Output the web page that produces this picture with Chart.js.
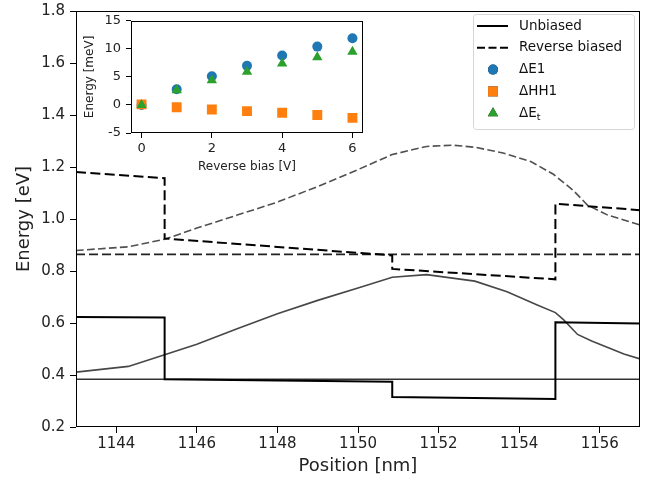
<!DOCTYPE html>
<html>
<head>
<meta charset="utf-8">
<script src="https://cdn.jsdelivr.net/npm/chart.js@4.4.0/dist/chart.umd.min.js"></script>
<style>
  body { margin: 0; background: #fff; }
  #wrap { position: relative; width: 651px; height: 484px; }
  #main { position: absolute; left: 0; top: 0; }
  #inset { position: absolute; left: 80px; top: 8px; }
</style>
</head>
<body>
<div id="wrap">
  <canvas id="main" width="651" height="484"></canvas>
  <canvas id="inset" width="290" height="172"></canvas>
</div>
<script>
// band edges (nm, eV) - steps repeat the x value
const stepX = [1143, 1145.2, 1145.2, 1150.85, 1150.85, 1154.9, 1154.9, 1157];
const unbiasedBand = [0.623, 0.621, 0.384, 0.374, 0.315, 0.308, 0.603, 0.598];
const biasedBand = [1.181, 1.157, 0.925, 0.860, 0.808, 0.768, 1.059, 1.034];

// confined levels
const levelX = [1143, 1157];
const unbiasedLevel = [0.384, 0.384];
const biasedLevel = [0.864, 0.864];

// the smooth curves
const unbiasedCurveX = [1143, 1144.3, 1145.2, 1146, 1147, 1148, 1149, 1150, 1150.85, 1151.7, 1152.9, 1153.7, 1154.45, 1154.9, 1155.1, 1155.45, 1155.8, 1156.2, 1156.6, 1157];
const unbiasedCurve = [0.411, 0.433, 0.478, 0.518, 0.578, 0.636, 0.687, 0.735, 0.776, 0.786, 0.761, 0.72, 0.669, 0.64, 0.613, 0.556, 0.531, 0.506, 0.481, 0.462];
const biasedCurveX = [1143, 1144.3, 1145.2, 1146, 1147, 1148, 1149, 1150, 1150.85, 1151.7, 1152.35, 1152.9, 1153.6, 1154.3, 1154.85, 1155.35, 1155.7, 1156.2, 1157];
const biasedCurve = [0.879, 0.893, 0.922, 0.965, 1.015, 1.065, 1.125, 1.19, 1.248, 1.279, 1.284, 1.276, 1.254, 1.22, 1.172, 1.109, 1.053, 1.015, 0.977];

const xTicks = [1144, 1146, 1148, 1150, 1152, 1154, 1156];
const yTicks = [0.2, 0.4, 0.6, 0.8, 1.0, 1.2, 1.4, 1.6, 1.8];

// inset: shifts vs reverse bias (V, meV)
const bias = [0, 1, 2, 3, 4, 5, 6];
const dE1 = [0, 2.8, 5.1, 7.0, 8.8, 10.4, 11.9];
const dHH1 = [0.1, -0.4, -0.8, -1.1, -1.4, -1.8, -2.3];
const dEt = [0, 2.6, 4.4, 5.9, 7.4, 8.5, 9.5];
const biasTicks = [0, 2, 4, 6];
const meVTicks = [-5, 0, 5, 10, 15];

const pts = (xs, ys) => xs.map((x, i) => ({x: x, y: ys[i]}));

Chart.defaults.font.family = 'DejaVu Sans';
Chart.defaults.color = '#222';

const frame = {
  id: 'frame',
  beforeDatasetsDraw(chart, args, opts) {
    if (!opts.fill) return;
    const {ctx, chartArea: a} = chart;
    ctx.save();
    ctx.fillStyle = opts.fill;
    ctx.fillRect(a.left, a.top, a.right - a.left, a.bottom - a.top);
    ctx.restore();
  },
  afterDatasetsDraw(chart) {
    const {ctx, chartArea: a} = chart;
    ctx.save();
    ctx.strokeStyle = '#000';
    ctx.lineWidth = 1;
    ctx.strokeRect(Math.round(a.left) + 0.5, Math.round(a.top) + 0.5,
      Math.round(a.right - a.left) - 1, Math.round(a.bottom - a.top) - 1);
    ctx.restore();
  }
};

const legendItems = [
  {label: 'Unbiased', kind: 'line', dash: []},
  {label: 'Reverse biased', kind: 'line', dash: [8, 3.5]},
  {label: 'ΔE1', kind: 'circle', color: '#1f77b4'},
  {label: 'ΔHH1', kind: 'rect', color: '#ff7f0e'},
  {label: 'ΔE', sub: 't', kind: 'triangle', color: '#2ca02c'}
];

const boxLegend = {
  id: 'boxLegend',
  afterDraw(chart) {
    const ctx = chart.ctx;
    const x0 = 473, y0 = 14, w = 161, h = 115, r = 3;
    ctx.save();
    ctx.beginPath();
    ctx.roundRect(x0 + 0.5, y0 + 0.5, w, h, r);
    ctx.fillStyle = 'rgba(255,255,255,0.8)';
    ctx.fill();
    ctx.strokeStyle = '#d6d6d6';
    ctx.lineWidth = 1;
    ctx.stroke();
    legendItems.forEach((it, i) => {
      const y = 26 + i * 21.8;
      const cx = 493;
      if (it.kind === 'line') {
        ctx.beginPath();
        ctx.setLineDash(it.dash);
        ctx.strokeStyle = '#000';
        ctx.lineWidth = 2;
        ctx.moveTo(477, y);
        ctx.lineTo(508, y);
        ctx.stroke();
        ctx.setLineDash([]);
      } else {
        Chart.helpers.drawPoint(ctx, {
          pointStyle: it.kind,
          radius: it.kind === 'circle' ? 5 : (it.kind === 'rect' ? 7 : 6),
          rotation: 0,
          borderWidth: 0
        }, cx, y);
        ctx.fillStyle = it.color;
        ctx.fill();
      }
      ctx.fillStyle = '#111';
      ctx.textBaseline = 'middle';
      ctx.font = '13.5px "DejaVu Sans"';
      ctx.fillText(it.label, 519, y);
      if (it.sub) {
        const tw = ctx.measureText(it.label).width;
        ctx.font = '9.5px "DejaVu Sans"';
        ctx.fillText(it.sub, 519 + tw, y + 4);
      }
    });
    ctx.restore();
  }
};

new Chart(document.getElementById('main'), {
  type: 'scatter',
  data: {
    datasets: [
      {label: 'Unbiased', data: pts(stepX, unbiasedBand), showLine: true, pointRadius: 0,
        borderColor: '#000', borderWidth: 2},
      {label: 'Unbiased level', data: pts(levelX, unbiasedLevel), showLine: true, pointRadius: 0,
        borderColor: '#333', borderWidth: 1.5},
      {label: 'Unbiased curve', data: pts(unbiasedCurveX, unbiasedCurve), showLine: true, pointRadius: 0,
        borderColor: '#474747', borderWidth: 1.6},
      {label: 'Reverse biased', data: pts(stepX, biasedBand), showLine: true, pointRadius: 0,
        borderColor: '#000', borderWidth: 2, borderDash: [10, 4.4]},
      {label: 'Reverse level', data: pts(levelX, biasedLevel), showLine: true, pointRadius: 0,
        borderColor: '#222', borderWidth: 1.6, borderDash: [9, 4]},
      {label: 'Reverse curve', data: pts(biasedCurveX, biasedCurve), showLine: true, pointRadius: 0,
        borderColor: '#505050', borderWidth: 1.6, borderDash: [7.7, 3.3]}
    ]
  },
  options: {
    responsive: false,
    animation: false,
    devicePixelRatio: 1,
    layout: {padding: {left: 0, right: 11, top: 6, bottom: 0}},
    plugins: {legend: {display: false}, tooltip: {enabled: false}},
    scales: {
      x: {
        type: 'linear', min: 1143, max: 1157,
        afterBuildTicks: s => { s.ticks = xTicks.map(v => ({value: v})); },
        afterFit: s => { s.height = 57; },
        grid: {drawOnChartArea: false, tickLength: 6, color: '#000'},
        border: {display: false},
        ticks: {font: {size: 15}, padding: 2, maxRotation: 0, autoSkip: false, callback: v => String(v)},
        title: {display: true, text: 'Position [nm]', font: {size: 18}, padding: {top: 0, bottom: 6.5}}
      },
      y: {
        type: 'linear', min: 0.2, max: 1.8,
        afterBuildTicks: s => { s.ticks = yTicks.map(v => ({value: v})); },
        afterFit: s => { s.width = 76; },
        grid: {drawOnChartArea: false, tickLength: 6, color: '#000'},
        border: {display: false},
        ticks: {font: {size: 15, lineHeight: 0.8}, padding: 5, autoSkip: false, callback: v => v.toFixed(1)},
        title: {display: true, text: 'Energy [eV]', font: {size: 18}, padding: {top: 14, bottom: 0}}
      }
    }
  },
  plugins: [frame, boxLegend]
});

new Chart(document.getElementById('inset'), {
  type: 'scatter',
  data: {
    datasets: [
      {label: 'ΔE1', data: pts(bias, dE1), pointStyle: 'circle', pointRadius: 5,
        pointBackgroundColor: '#1f77b4', pointBorderWidth: 0, order: 3},
      {label: 'ΔHH1', data: pts(bias, dHH1), pointStyle: 'rect', pointRadius: 7,
        pointBackgroundColor: '#ff7f0e', pointBorderWidth: 0, order: 2},
      {label: 'ΔEt', data: pts(bias, dEt), pointStyle: 'triangle', pointRadius: 6,
        pointBackgroundColor: '#2ca02c', pointBorderWidth: 0, order: 1}
    ]
  },
  options: {
    responsive: false,
    animation: false,
    devicePixelRatio: 1,
    layout: {padding: {left: 0, right: 5, top: 11, bottom: 0}},
    plugins: {legend: {display: false}, tooltip: {enabled: false}, frame: {fill: '#fff'}},
    scales: {
      x: {
        type: 'linear', min: -0.3, max: 6.3,
        afterBuildTicks: s => { s.ticks = biasTicks.map(v => ({value: v})); },
        afterFit: s => { s.height = 47; },
        grid: {drawOnChartArea: false, tickLength: 5, color: '#000'},
        border: {display: false},
        ticks: {font: {size: 13}, padding: 3, maxRotation: 0, autoSkip: false, callback: v => String(v)},
        title: {display: true, text: 'Reverse bias [V]', font: {size: 12}, padding: {top: 0, bottom: 6}}
      },
      y: {
        type: 'linear', min: -5, max: 15,
        afterBuildTicks: s => { s.ticks = meVTicks.map(v => ({value: v})); },
        afterFit: s => { s.width = 51; },
        grid: {drawOnChartArea: false, tickLength: 5, color: '#000'},
        border: {display: false},
        ticks: {font: {size: 13}, padding: 5, autoSkip: false, callback: v => String(v)},
        title: {display: true, text: 'Energy [meV]', font: {size: 12}, padding: {top: 3, bottom: 0}}
      }
    }
  },
  plugins: [frame]
});
</script>
</body>
</html>
